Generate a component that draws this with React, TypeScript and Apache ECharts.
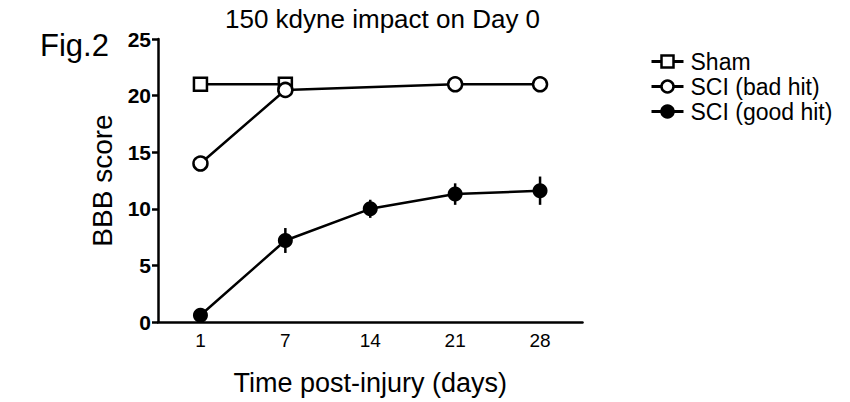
import React, { useEffect, useRef } from "react";
import * as echarts from "echarts";

const days = ["1", "7", "14", "21", "28"];
const sham = [21, 21, null, null, null];
const sciBad = [14, 20.5, null, 21, 21];
const sciGood = [0.6, 7.2, 10.0, 11.3, 11.6];
const sciGoodErr = [0.2, 1.1, 0.8, 0.95, 1.25];
const yTicks = [0, 5, 10, 15, 20, 25];

const FONT = "Arial";

export default function App() {
  const ref = useRef<HTMLDivElement>(null);
  useEffect(() => {
    const chart = echarts.init(ref.current!, null, { renderer: "svg" });
    const errData = sciGood.map((v, i) => [i, v - sciGoodErr[i], v + sciGoodErr[i]]);
    chart.setOption({
      animation: false,
      textStyle: { fontFamily: FONT, color: "#000" },
      title: {
        text: "150 kdyne impact on Day 0",
        left: 220,
        top: 1,
        textStyle: { fontFamily: FONT, fontSize: 26, fontWeight: "normal", color: "#000" },
      },
      graphic: [
        {
          type: "text",
          left: 40,
          top: 30,
          style: { text: "Fig.2", fontFamily: FONT, fontSize: 31, fill: "#000" },
        },
      ],
      legend: {
        orient: "vertical",
        left: 645,
        top: 45,
        itemWidth: 32,
        itemHeight: 15,
        itemGap: 2,
        data: ["Sham", "SCI (bad hit)", "SCI (good hit)"],
        lineStyle: { width: 3 },
        itemStyle: { borderWidth: 2.5 },
        textStyle: { fontFamily: FONT, fontSize: 23, color: "#000", padding: [0, 0, 0, 2] },
      },
      grid: { left: 158, right: 267.5, top: 39, bottom: 80 },
      xAxis: {
        type: "category",
        data: days,
        boundaryGap: true,
        name: "Time post-injury (days)",
        nameLocation: "middle",
        nameGap: 47,
        nameTextStyle: { fontFamily: FONT, fontSize: 27, color: "#000" },
        axisLine: { lineStyle: { color: "#000", width: 2.5 } },
        axisTick: { alignWithLabel: true, length: 6, lineStyle: { color: "#000", width: 2.5 } },
        axisLabel: { fontFamily: FONT, fontSize: 19, color: "#000", margin: 9 },
      },
      yAxis: {
        type: "value",
        min: 0,
        max: 25,
        interval: 5,
        name: "BBB score",
        nameLocation: "middle",
        nameGap: 42,
        nameTextStyle: { fontFamily: FONT, fontSize: 28, color: "#000" },
        axisLine: { show: true, lineStyle: { color: "#000", width: 2.5 } },
        axisTick: { show: true, length: 6, lineStyle: { color: "#000", width: 2.5 } },
        splitLine: { show: false },
        axisLabel: {
          fontFamily: FONT,
          fontSize: 21,
          fontWeight: "bold",
          color: "#000",
          margin: 7,
          formatter: (v: number) => (yTicks.includes(v) ? String(v) : ""),
        },
      },
      series: [
        {
          name: "Sham",
          type: "line",
          data: sham,
          symbol: "rect",
          symbolSize: 13,
          connectNulls: true,
          lineStyle: { color: "#000", width: 2.5 },
          itemStyle: { color: "#fff", borderColor: "#000", borderWidth: 2.5 },
          z: 3,
        },
        {
          name: "SCI (bad hit)",
          type: "line",
          data: sciBad,
          symbol: "circle",
          symbolSize: 14,
          connectNulls: true,
          lineStyle: { color: "#000", width: 2.5 },
          itemStyle: { color: "#fff", borderColor: "#000", borderWidth: 2.5 },
          z: 4,
        },
        {
          name: "errbars",
          type: "custom",
          data: errData,
          encode: { x: 0, y: [1, 2] },
          renderItem: (params: any, api: any) => {
            const lo = api.coord([api.value(0), api.value(1)]);
            const hi = api.coord([api.value(0), api.value(2)]);
            return {
              type: "line",
              shape: { x1: lo[0], y1: lo[1], x2: hi[0], y2: hi[1] },
              style: { stroke: "#000", lineWidth: 2.5 },
            };
          },
          z: 2,
        },
        {
          name: "SCI (good hit)",
          type: "line",
          data: sciGood,
          symbol: "circle",
          symbolSize: 15,
          lineStyle: { color: "#000", width: 2.5 },
          itemStyle: { color: "#000", borderColor: "#000", borderWidth: 0 },
          z: 5,
        },
      ],
    });
    return () => chart.dispose();
  }, []);
  return (
    <div
      ref={ref}
      style={{ position: "absolute", left: 0, top: 0, width: 850, height: 402 }}
    />
  );
}
